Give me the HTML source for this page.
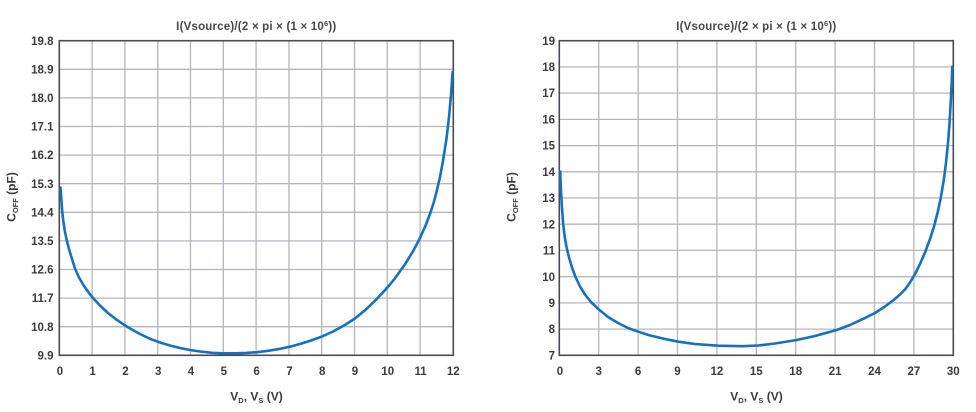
<!DOCTYPE html>
<html><head><meta charset="utf-8"><style>
html,body{margin:0;padding:0;background:#fff;}
svg{display:block;font-family:"Liberation Sans",sans-serif;font-weight:bold;}
.g{stroke:#b5b5bd;stroke-width:1.3;fill:none;}
.b{stroke:#4a4a52;stroke-width:1.6;fill:none;}
.c{stroke:#1570bf;stroke-width:2.6;fill:none;stroke-linejoin:round;stroke-linecap:round;}
.t{fill:#3a3a40;font-size:11.5px;}
.ax{fill:#3a3a40;font-size:12px;}
.ti{fill:#46464c;font-size:11.5px;letter-spacing:0.2px;}
</style></head><body>
<svg width="976" height="412" viewBox="0 0 976 412" xmlns="http://www.w3.org/2000/svg">
<!-- LEFT CHART -->
<g>
<path class="g" d="M92.1 40.7V355.3M124.9 40.7V355.3M157.7 40.7V355.3M190.5 40.7V355.3M223.3 40.7V355.3M256.1 40.7V355.3M288.9 40.7V355.3M321.7 40.7V355.3M354.5 40.7V355.3M387.3 40.7V355.3M420.1 40.7V355.3
M59.3 69.3H453.3M59.3 97.9H453.3M59.3 126.5H453.3M59.3 155.1H453.3M59.3 183.7H453.3M59.3 212.3H453.3M59.3 240.9H453.3M59.3 269.5H453.3M59.3 298.1H453.3M59.3 326.7H453.3"/>
<rect class="b" x="59.3" y="40.7" width="394" height="314.6"/>
<polyline class="c" points="60.5,187.5 61,195 61.6,203 62.3,212 63.3,221 64.8,231 66.7,240 69,249 71.7,258 75,268.5 79,277.5 84,286 89,293 93.3,298.3 100,305.5 108.3,313.3 117,320 128.3,327.5 140,334 150,338.8 160,342.5 170,345.5 180,348 190,350 200,351.5 212,352.8 223,353.3 235,353.3 246,352.9 257,352.2 268,350.8 280,348.8 290,346.7 300,344 311,340.5 322,336.5 333,331.5 344,325.5 355,318.5 365,310.3 375,300.8 386.7,288.3 395,278.3 405,264.3 413,251.3 420,238 426,224.5 431,211 434,201.5 437,190 440,177 443,161 446.7,137 449,117 451,95 452.6,72"/>
<g class="t" text-anchor="end">
<text x="53.5" y="44.8">19.8</text>
<text x="53.5" y="73.4">18.9</text>
<text x="53.5" y="102">18.0</text>
<text x="53.5" y="130.6">17.1</text>
<text x="53.5" y="159.2">16.2</text>
<text x="53.5" y="187.8">15.3</text>
<text x="53.5" y="216.4">14.4</text>
<text x="53.5" y="245">13.5</text>
<text x="53.5" y="273.6">12.6</text>
<text x="53.5" y="302.2">11.7</text>
<text x="53.5" y="330.8">10.8</text>
<text x="53.5" y="359.4">9.9</text>
</g>
<g class="t" text-anchor="middle">
<text x="60" y="374.8">0</text>
<text x="92.6" y="374.8">1</text>
<text x="125.4" y="374.8">2</text>
<text x="158.2" y="374.8">3</text>
<text x="191" y="374.8">4</text>
<text x="223.8" y="374.8">5</text>
<text x="256.6" y="374.8">6</text>
<text x="289.4" y="374.8">7</text>
<text x="322.2" y="374.8">8</text>
<text x="355" y="374.8">9</text>
<text x="387.8" y="374.8">10</text>
<text x="420.6" y="374.8">11</text>
<text x="453.3" y="374.8">12</text>
</g>
<text class="ti" x="256.3" y="30" text-anchor="middle">I(Vsource)/(2 × pi × (1 × 10<tspan font-size="7.5" dy="-4">6</tspan><tspan dy="4">))</tspan></text>
<text class="ax" x="256.5" y="400.5" text-anchor="middle">V<tspan font-size="7.5" dy="2.5">D</tspan><tspan dy="-2.5">, V</tspan><tspan font-size="7.5" dy="2.5">S</tspan><tspan dy="-2.5"> (V)</tspan></text>
<text class="ax" transform="translate(15.5,197) rotate(-90)" text-anchor="middle">C<tspan font-size="7.5" dy="2.5">OFF</tspan><tspan dy="-2.5"> (pF)</tspan></text>
</g>
<!-- RIGHT CHART -->
<g>
<path class="g" d="M598.7 40.7V355.3M638.1 40.7V355.3M677.5 40.7V355.3M716.9 40.7V355.3M756.3 40.7V355.3M795.7 40.7V355.3M835.1 40.7V355.3M874.5 40.7V355.3M913.9 40.7V355.3
M559.3 66.9H953.3M559.3 93.1H953.3M559.3 119.4H953.3M559.3 145.6H953.3M559.3 171.8H953.3M559.3 198H953.3M559.3 224.2H953.3M559.3 250.4H953.3M559.3 276.7H953.3M559.3 302.9H953.3M559.3 329.1H953.3"/>
<rect class="b" x="559.3" y="40.7" width="394" height="314.6"/>
<polyline class="c" points="560.3,171.5 560.7,185 561.4,198 562.2,211 563.2,224.2 564.6,236 566.5,247 569,257.5 572,267.5 575.5,277 580,286.5 585,294.5 591,302 598.3,309 608,317 618,323 628,328 638.3,331.7 650,335.5 665,339 678.3,341.7 695,344 718,345.7 743,346.2 758,345.5 775,343.5 796.7,340 815,336 836.7,330 850,325 863.3,318.8 875,313 885,306.5 893,300.5 900,294.5 905,289.5 910,282.5 915,274 920,264 925,252.5 930,239 934,226.5 938,211 941,196.5 944,178.5 946,162.5 948,143 949.5,123.5 950.8,101 951.8,80 952.3,66.5"/>
<g class="t" text-anchor="end">
<text x="555" y="44.8">19</text>
<text x="555" y="71">18</text>
<text x="555" y="97.2">17</text>
<text x="555" y="123.5">16</text>
<text x="555" y="149.7">15</text>
<text x="555" y="175.9">14</text>
<text x="555" y="202.1">13</text>
<text x="555" y="228.3">12</text>
<text x="555" y="254.5">11</text>
<text x="555" y="280.8">10</text>
<text x="555" y="307">9</text>
<text x="555" y="333.2">8</text>
<text x="555" y="359.4">7</text>
</g>
<g class="t" text-anchor="middle">
<text x="560" y="374.8">0</text>
<text x="598.7" y="374.8">3</text>
<text x="638.1" y="374.8">6</text>
<text x="677.5" y="374.8">9</text>
<text x="716.9" y="374.8">12</text>
<text x="756.3" y="374.8">15</text>
<text x="795.7" y="374.8">18</text>
<text x="835.1" y="374.8">21</text>
<text x="874.5" y="374.8">24</text>
<text x="913.9" y="374.8">27</text>
<text x="953.3" y="374.8">30</text>
</g>
<text class="ti" x="756.3" y="30" text-anchor="middle">I(Vsource)/(2 × pi × (1 × 10<tspan font-size="7.5" dy="-4">6</tspan><tspan dy="4">))</tspan></text>
<text class="ax" x="756.5" y="400.5" text-anchor="middle">V<tspan font-size="7.5" dy="2.5">D</tspan><tspan dy="-2.5">, V</tspan><tspan font-size="7.5" dy="2.5">S</tspan><tspan dy="-2.5"> (V)</tspan></text>
<text class="ax" transform="translate(515.5,197) rotate(-90)" text-anchor="middle">C<tspan font-size="7.5" dy="2.5">OFF</tspan><tspan dy="-2.5"> (pF)</tspan></text>
</g>
</svg>
</body></html>
